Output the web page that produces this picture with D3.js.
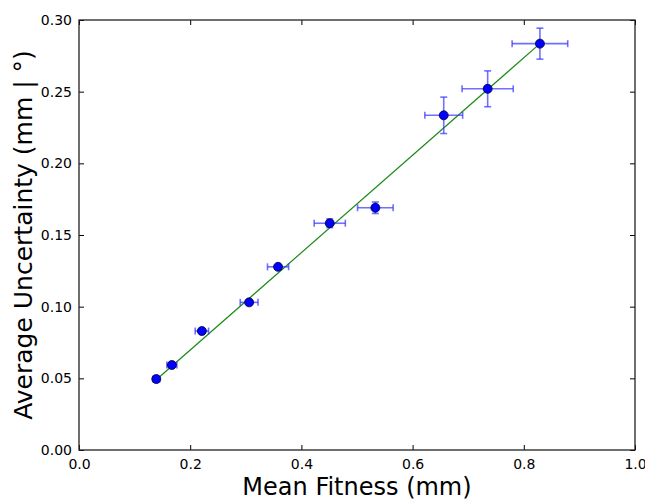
<!DOCTYPE html>
<html>
<head>
<meta charset="utf-8">
<script src="https://cdn.jsdelivr.net/npm/d3@7"></script>
<style>
  body { margin: 0; background: #fff; }
  text { font-family: "DejaVu Sans", sans-serif; fill: #000; }
</style>
</head>
<body>
<svg id="chart" width="645" height="500"></svg>
<script>
const meanFitness = [0.139, 0.167, 0.221, 0.306, 0.358, 0.451, 0.533, 0.656, 0.735, 0.829];
const avgUncertainty = [0.0495, 0.0593, 0.0830, 0.1030, 0.1278, 0.1582, 0.1690, 0.2335, 0.2520, 0.2835];
const fitnessErr = [0.006, 0.009, 0.012, 0.016, 0.019, 0.028, 0.032, 0.034, 0.046, 0.050];
const uncertaintyErr = [0.0008, 0.0012, 0.0015, 0.0015, 0.0015, 0.0030, 0.0040, 0.0127, 0.0125, 0.0108];
// fitted line end points
const fitX = [0.139, 0.829];
const fitY = [0.0490, 0.2835];
const xTicks = [0.0, 0.2, 0.4, 0.6, 0.8, 1.0];
const yTicks = [0.00, 0.05, 0.10, 0.15, 0.20, 0.25, 0.30];

const margin = { left: 79, right: 10, top: 20, bottom: 50 },
  width = 645, height = 500,
  plotW = width - margin.left - margin.right,
  plotH = height - margin.top - margin.bottom,
  tickLen = 5;

const x = d3.scaleLinear().domain([0, 1]).range([0, plotW]);
const y = d3.scaleLinear().domain([0, 0.3]).range([plotH, 0]);

const svg = d3.select('#chart');
const g = svg.append('g').attr('transform', `translate(${margin.left},${margin.top})`);

// inner ticks on all four sides
const axisStyle = sel => {
  sel.select('.domain').remove();
  sel.selectAll('.tick line').attr('stroke', '#000').attr('stroke-width', 1);
  sel.selectAll('.tick text').style('font-size', '14px').style('font-family', '"DejaVu Sans", sans-serif').attr('fill', '#111');
};

g.append('g')
  .attr('transform', `translate(0,${plotH})`)
  .call(d3.axisBottom(x).tickValues(xTicks).tickFormat(d3.format('.1f')).tickSizeInner(-tickLen).tickPadding(9))
  .call(axisStyle);

g.append('g')
  .call(d3.axisTop(x).tickValues(xTicks).tickFormat('').tickSizeInner(-tickLen))
  .call(axisStyle);

g.append('g')
  .call(d3.axisLeft(y).tickValues(yTicks).tickFormat(d3.format('.2f')).tickSizeInner(-tickLen).tickPadding(7))
  .call(axisStyle);

g.append('g')
  .attr('transform', `translate(${plotW},0)`)
  .call(d3.axisRight(y).tickValues(yTicks).tickFormat('').tickSizeInner(-tickLen))
  .call(axisStyle);

g.append('rect')
  .attr('width', plotW)
  .attr('height', plotH)
  .attr('fill', 'none')
  .attr('stroke', '#222')
  .attr('stroke-width', 1.3);

const points = meanFitness.map((d, i) => ({
  x: d, y: avgUncertainty[i], xe: fitnessErr[i], ye: uncertaintyErr[i]
}));

// fit line
g.append('path')
  .datum(fitX.map((d, i) => [d, fitY[i]]))
  .attr('d', d3.line().x(d => x(d[0])).y(d => y(d[1])))
  .attr('fill', 'none')
  .attr('stroke', '#1a8a1a')
  .attr('stroke-width', 1.2);

// error bars
const capW = 3.5;
const bars = g.append('g')
  .attr('stroke', '#3333ff')
  .attr('stroke-opacity', 0.7)
  .attr('stroke-width', 1.6)
  .selectAll('g')
  .data(points)
  .join('g');

bars.append('line')
  .attr('x1', d => x(d.x - d.xe)).attr('x2', d => x(d.x + d.xe))
  .attr('y1', d => y(d.y)).attr('y2', d => y(d.y));
bars.append('line')
  .attr('x1', d => x(d.x - d.xe)).attr('x2', d => x(d.x - d.xe))
  .attr('y1', d => y(d.y) - capW).attr('y2', d => y(d.y) + capW);
bars.append('line')
  .attr('x1', d => x(d.x + d.xe)).attr('x2', d => x(d.x + d.xe))
  .attr('y1', d => y(d.y) - capW).attr('y2', d => y(d.y) + capW);
bars.append('line')
  .attr('x1', d => x(d.x)).attr('x2', d => x(d.x))
  .attr('y1', d => y(d.y - d.ye)).attr('y2', d => y(d.y + d.ye));
bars.append('line')
  .attr('x1', d => x(d.x) - capW).attr('x2', d => x(d.x) + capW)
  .attr('y1', d => y(d.y - d.ye)).attr('y2', d => y(d.y - d.ye));
bars.append('line')
  .attr('x1', d => x(d.x) - capW).attr('x2', d => x(d.x) + capW)
  .attr('y1', d => y(d.y + d.ye)).attr('y2', d => y(d.y + d.ye));

// markers
g.append('g')
  .selectAll('circle')
  .data(points)
  .join('circle')
  .attr('cx', d => x(d.x))
  .attr('cy', d => y(d.y))
  .attr('r', 4.5)
  .attr('fill', '#0000ff')
  .attr('stroke', '#000033')
  .attr('stroke-width', 0.8);

// axis labels
svg.append('text')
  .attr('x', margin.left + plotW / 2)
  .attr('y', 495)
  .attr('text-anchor', 'middle')
  .style('font-size', '24px')
  .text('Mean Fitness (mm)');

svg.append('text')
  .attr('transform', `translate(32,${margin.top + plotH / 2}) rotate(-90)`)
  .attr('text-anchor', 'middle')
  .style('font-size', '25px')
  .text('Average Uncertainty (mm | °)');
</script>
</body>
</html>
